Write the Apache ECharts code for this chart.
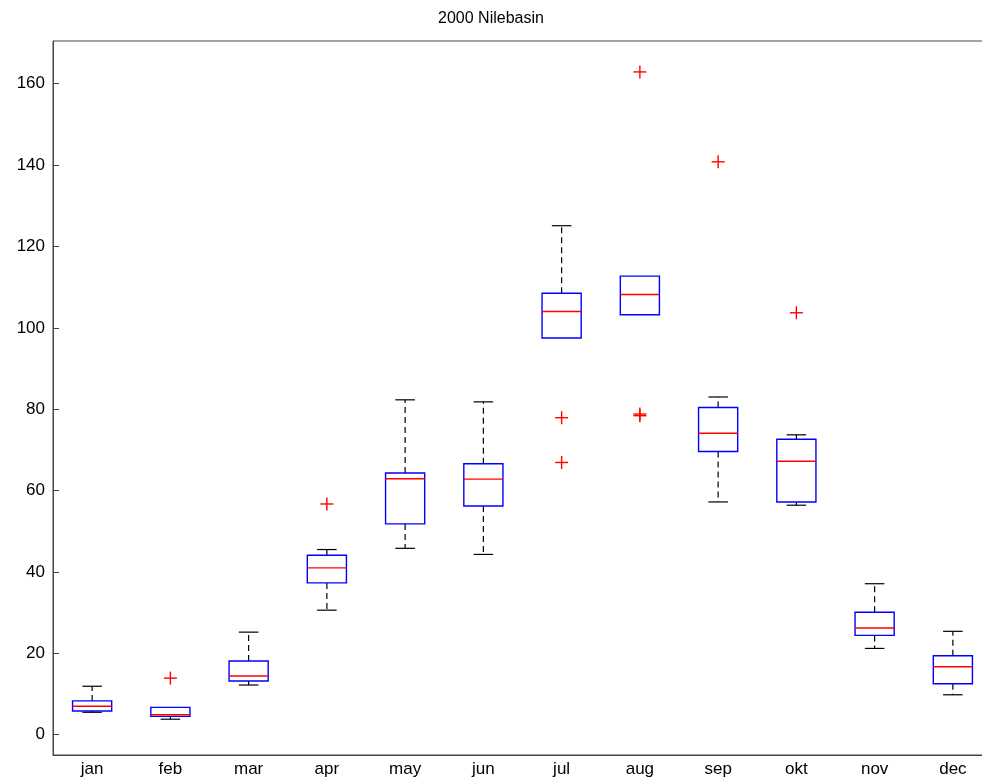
<!DOCTYPE html>
<html>
<head>
<meta charset="utf-8">
<script src="https://cdn.jsdelivr.net/npm/echarts@6/dist/echarts.min.js"></script>
<style>
    html, body { margin: 0; padding: 0; background: #fff; }
    #box { width: 982px; height: 781px; }
</style>
</head>
<body>
<div id="box"></div>
<script>
// monthly statistics
let months = ['jan', 'feb', 'mar', 'apr', 'may', 'jun', 'jul', 'aug', 'sep', 'okt', 'nov', 'dec'];
let lowWhisker = [5.5, 3.8, 12.2, 30.6, 45.8, 44.3, 97.5, 103.2, 57.2, 56.4, 21.2, 9.8];
let q1 = [5.8, 4.5, 13.2, 37.3, 51.8, 56.2, 97.5, 103.2, 69.6, 57.2, 24.4, 12.5];
let median = [7.0, 4.9, 14.4, 41.0, 62.9, 62.8, 104.0, 108.2, 74.1, 67.2, 26.2, 16.7];
let q3 = [8.3, 6.7, 18.1, 44.1, 64.3, 66.6, 108.5, 112.7, 80.4, 72.6, 30.1, 19.4];
let highWhisker = [11.9, 6.7, 25.2, 45.5, 82.3, 81.8, 125.1, 112.7, 83.0, 73.7, 37.1, 25.4];
// outliers: [month index, value]
let outliers = [
    [1, 13.9], [3, 56.7], [6, 77.9], [6, 66.9],
    [7, 162.9], [7, 78.4], [7, 78.8], [8, 140.8], [9, 103.7]
];

(function () {
    let chart = echarts.init(document.getElementById('box'));

    let boxData = months.map(function (m, i) {
        return [i, lowWhisker[i], q1[i], median[i], q3[i], highWhisker[i]];
    });

    function geom(api) {
        let i = api.value(0);
        let w = api.size([1, 0])[0];
        return {
            x: api.coord([i, 0])[0],
            yLow: api.coord([i, api.value(1)])[1],
            yQ1: api.coord([i, api.value(2)])[1],
            yMed: api.coord([i, api.value(3)])[1],
            yQ3: api.coord([i, api.value(4)])[1],
            yHigh: api.coord([i, api.value(5)])[1],
            half: w * 0.25,
            cap: w * 0.125
        };
    }

    // black dashed whiskers with solid caps
    function renderWhisker(params, api) {
        let g = geom(api);
        let kids = [];
        if (g.yQ3 - g.yHigh > 0.5) {
            kids.push({ type: 'line', shape: { x1: g.x, y1: g.yQ3, x2: g.x, y2: g.yHigh },
                style: { stroke: '#000000', fill: null, lineWidth: 1.2, lineDash: [6, 4] } });
            kids.push({ type: 'line', shape: { x1: g.x - g.cap, y1: g.yHigh, x2: g.x + g.cap, y2: g.yHigh },
                style: { stroke: '#000000', fill: null, lineWidth: 1.2 } });
        }
        if (g.yLow - g.yQ1 > 0.5) {
            kids.push({ type: 'line', shape: { x1: g.x, y1: g.yQ1, x2: g.x, y2: g.yLow },
                style: { stroke: '#000000', fill: null, lineWidth: 1.2, lineDash: [6, 4] } });
            kids.push({ type: 'line', shape: { x1: g.x - g.cap, y1: g.yLow, x2: g.x + g.cap, y2: g.yLow },
                style: { stroke: '#000000', fill: null, lineWidth: 1.2 } });
        }
        return { type: 'group', children: kids };
    }

    // blue box between quartiles
    function renderBox(params, api) {
        let g = geom(api);
        return {
            type: 'rect',
            shape: { x: g.x - g.half, y: g.yQ3, width: g.half * 2, height: g.yQ1 - g.yQ3 },
            style: { stroke: '#0000ff', fill: null, lineWidth: 1.4 }
        };
    }

    // red median
    function renderMedian(params, api) {
        let g = geom(api);
        return {
            type: 'line',
            shape: { x1: g.x - g.half, y1: g.yMed, x2: g.x + g.half, y2: g.yMed },
            style: { stroke: '#ff0000', fill: null, lineWidth: 1.4 }
        };
    }

    function renderPlus(params, api) {
        let p = api.coord([api.value(0), api.value(1)]);
        let s = 6.5;
        return {
            type: 'group',
            children: [
                { type: 'line', shape: { x1: p[0] - s, y1: p[1], x2: p[0] + s, y2: p[1] },
                    style: { stroke: '#ff0000', fill: null, lineWidth: 1.4 } },
                { type: 'line', shape: { x1: p[0], y1: p[1] - s, x2: p[0], y2: p[1] + s },
                    style: { stroke: '#ff0000', fill: null, lineWidth: 1.4 } }
            ]
        };
    }

    let enc = { x: 0, y: [1, 2, 3, 4, 5] };

    let option = {
        animation: false,
        backgroundColor: '#fff',
        textStyle: { fontFamily: 'Liberation Sans, Arial, sans-serif' },
        title: {
            text: '2000 Nilebasin',
            left: 'center',
            top: 6,
            textStyle: { fontSize: 16, fontWeight: 'normal', color: '#000' }
        },
        grid: {
            // the axes box runs a little past the right edge of the picture
            left: 53,
            width: 939,
            top: 41,
            bottom: 26,
            outerBoundsMode: 'none',
            show: true,
            borderColor: '#444',
            borderWidth: 1,
            backgroundColor: 'transparent'
        },
        xAxis: {
            type: 'category',
            data: months,
            boundaryGap: true,
            axisTick: { show: false },
            axisLine: { onZero: false, lineStyle: { color: '#444', width: 1 } },
            axisLabel: { color: '#000', fontSize: 17, margin: 6 },
            splitLine: { show: false }
        },
        yAxis: {
            type: 'value',
            min: -5,
            max: 170.5,
            minInterval: 20,
            maxInterval: 20,
            axisLine: { show: true, lineStyle: { color: '#444', width: 1 } },
            axisTick: { show: true, inside: true, length: 6, lineStyle: { color: '#444' } },
            axisLabel: {
                color: '#000',
                fontSize: 17,
                margin: 8,
                showMinLabel: false,
                showMaxLabel: false
            },
            splitLine: { show: false }
        },
        series: [
            { name: 'whisker', type: 'custom', renderItem: renderWhisker, data: boxData, encode: enc, z: 2 },
            { name: 'box', type: 'custom', renderItem: renderBox, data: boxData, encode: enc, z: 3 },
            { name: 'median', type: 'custom', renderItem: renderMedian, data: boxData, encode: enc, z: 4 },
            { name: 'outlier', type: 'custom', renderItem: renderPlus, data: outliers, encode: { x: 0, y: 1 }, z: 5 }
        ]
    };

    chart.setOption(option);
})();
</script>
</body>
</html>
